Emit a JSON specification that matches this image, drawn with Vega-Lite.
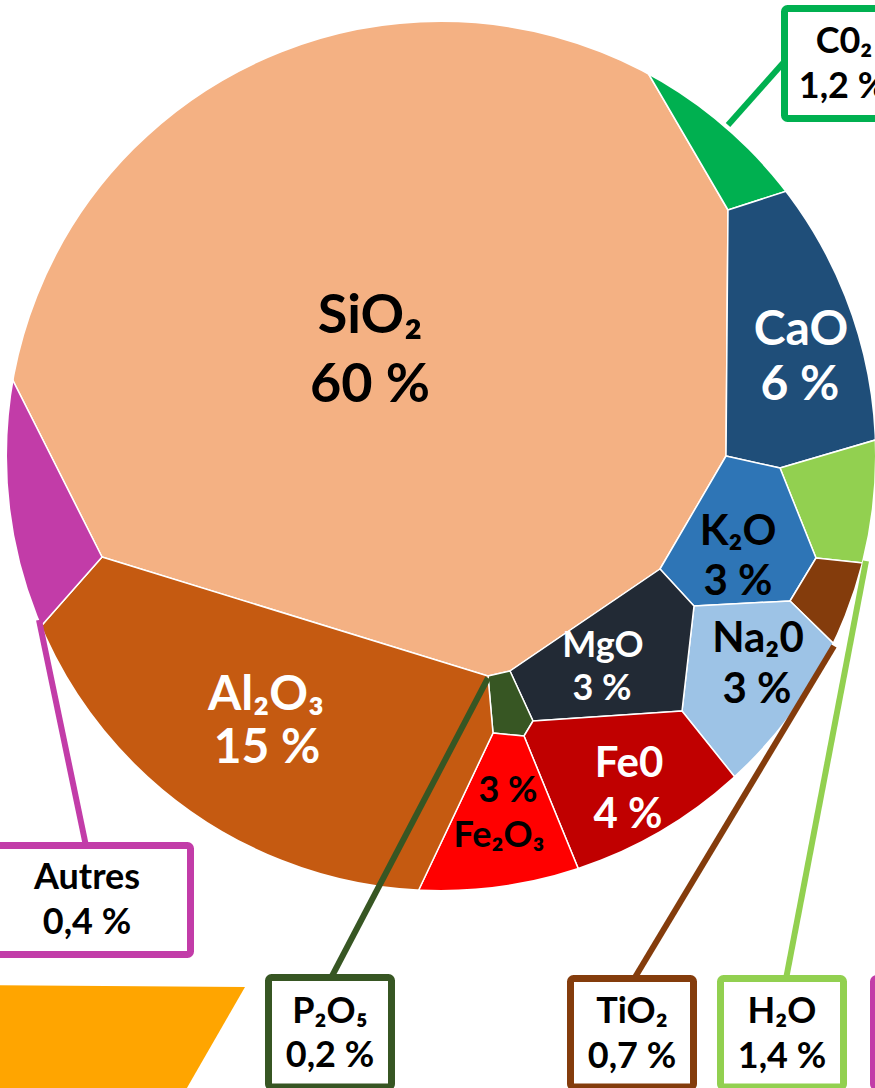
{
  "$schema": "https://vega.github.io/schema/vega-lite/v6.json",
  "width": 875,
  "height": 1088,
  "autosize": {"type": "none"},
  "padding": 0,
  "background": "white",
  "config": {"view": {"stroke": null}},
  "datasets": {
    "cellules": [
      {"cell": "SiO2", "i": 0, "x": 102, "y": 557}, {"cell": "SiO2", "i": 1, "x": -5, "y": 345}, {"cell": "SiO2", "i": 2, "x": -60, "y": 200}, {"cell": "SiO2", "i": 3, "x": 100, "y": -60}, {"cell": "SiO2", "i": 4, "x": 400, "y": -60}, {"cell": "SiO2", "i": 5, "x": 620, "y": 25}, {"cell": "SiO2", "i": 6, "x": 728, "y": 210}, {"cell": "SiO2", "i": 7, "x": 726, "y": 456}, {"cell": "SiO2", "i": 8, "x": 660, "y": 569}, {"cell": "SiO2", "i": 9, "x": 510, "y": 671}, {"cell": "SiO2", "i": 10, "x": 488, "y": 676}, {"cell": "SiO2", "i": 11, "x": 102, "y": 557},
      {"cell": "CO2", "i": 0, "x": 728, "y": 210}, {"cell": "CO2", "i": 1, "x": 620, "y": 25}, {"cell": "CO2", "i": 2, "x": 800, "y": 60}, {"cell": "CO2", "i": 3, "x": 849, "y": 171}, {"cell": "CO2", "i": 4, "x": 728, "y": 210},
      {"cell": "CaO", "i": 0, "x": 728, "y": 210}, {"cell": "CaO", "i": 1, "x": 849, "y": 171}, {"cell": "CaO", "i": 2, "x": 930, "y": 150}, {"cell": "CaO", "i": 3, "x": 930, "y": 424}, {"cell": "CaO", "i": 4, "x": 780, "y": 468}, {"cell": "CaO", "i": 5, "x": 726, "y": 456}, {"cell": "CaO", "i": 6, "x": 728, "y": 210},
      {"cell": "H2O", "i": 0, "x": 780, "y": 468}, {"cell": "H2O", "i": 1, "x": 930, "y": 424}, {"cell": "H2O", "i": 2, "x": 920, "y": 569}, {"cell": "H2O", "i": 3, "x": 816, "y": 558}, {"cell": "H2O", "i": 4, "x": 780, "y": 468},
      {"cell": "K2O", "i": 0, "x": 726, "y": 456}, {"cell": "K2O", "i": 1, "x": 780, "y": 468}, {"cell": "K2O", "i": 2, "x": 816, "y": 558}, {"cell": "K2O", "i": 3, "x": 790, "y": 601}, {"cell": "K2O", "i": 4, "x": 694, "y": 606}, {"cell": "K2O", "i": 5, "x": 660, "y": 569}, {"cell": "K2O", "i": 6, "x": 726, "y": 456},
      {"cell": "TiO2", "i": 0, "x": 816, "y": 558}, {"cell": "TiO2", "i": 1, "x": 920, "y": 569}, {"cell": "TiO2", "i": 2, "x": 880, "y": 689}, {"cell": "TiO2", "i": 3, "x": 790, "y": 601}, {"cell": "TiO2", "i": 4, "x": 816, "y": 558},
      {"cell": "Na2O", "i": 0, "x": 694, "y": 606}, {"cell": "Na2O", "i": 1, "x": 790, "y": 601}, {"cell": "Na2O", "i": 2, "x": 880, "y": 689}, {"cell": "Na2O", "i": 3, "x": 770, "y": 821}, {"cell": "Na2O", "i": 4, "x": 682, "y": 711}, {"cell": "Na2O", "i": 5, "x": 694, "y": 606},
      {"cell": "MgO", "i": 0, "x": 660, "y": 569}, {"cell": "MgO", "i": 1, "x": 694, "y": 606}, {"cell": "MgO", "i": 2, "x": 682, "y": 711}, {"cell": "MgO", "i": 3, "x": 533, "y": 721}, {"cell": "MgO", "i": 4, "x": 510, "y": 671}, {"cell": "MgO", "i": 5, "x": 660, "y": 569},
      {"cell": "P2O5", "i": 0, "x": 488, "y": 676}, {"cell": "P2O5", "i": 1, "x": 510, "y": 671}, {"cell": "P2O5", "i": 2, "x": 533, "y": 721}, {"cell": "P2O5", "i": 3, "x": 524, "y": 736}, {"cell": "P2O5", "i": 4, "x": 493, "y": 733}, {"cell": "P2O5", "i": 5, "x": 488, "y": 676},
      {"cell": "FeO", "i": 0, "x": 533, "y": 721}, {"cell": "FeO", "i": 1, "x": 682, "y": 711}, {"cell": "FeO", "i": 2, "x": 770, "y": 821}, {"cell": "FeO", "i": 3, "x": 596, "y": 912}, {"cell": "FeO", "i": 4, "x": 524, "y": 736}, {"cell": "FeO", "i": 5, "x": 533, "y": 721},
      {"cell": "Fe2O3", "i": 0, "x": 493, "y": 733}, {"cell": "Fe2O3", "i": 1, "x": 524, "y": 736}, {"cell": "Fe2O3", "i": 2, "x": 596, "y": 912}, {"cell": "Fe2O3", "i": 3, "x": 405, "y": 919}, {"cell": "Fe2O3", "i": 4, "x": 493, "y": 733},
      {"cell": "Al2O3", "i": 0, "x": 102, "y": 557}, {"cell": "Al2O3", "i": 1, "x": 488, "y": 676}, {"cell": "Al2O3", "i": 2, "x": 493, "y": 733}, {"cell": "Al2O3", "i": 3, "x": 405, "y": 919}, {"cell": "Al2O3", "i": 4, "x": 120, "y": 850}, {"cell": "Al2O3", "i": 5, "x": 13, "y": 658}, {"cell": "Al2O3", "i": 6, "x": 102, "y": 557},
      {"cell": "Autres", "i": 0, "x": 102, "y": 557}, {"cell": "Autres", "i": 1, "x": 13, "y": 658}, {"cell": "Autres", "i": 2, "x": -40, "y": 500}, {"cell": "Autres", "i": 3, "x": -5, "y": 345}, {"cell": "Autres", "i": 4, "x": 102, "y": 557}
    ],
    "centre": [{"x": 441, "y": 456}],
    "forme": [
      {"cell": "Orange", "i": 0, "x": -20, "y": 985}, {"cell": "Orange", "i": 1, "x": 245, "y": 987}, {"cell": "Orange", "i": 2, "x": 180, "y": 1100}, {"cell": "Orange", "i": 3, "x": -20, "y": 1100}, {"cell": "Orange", "i": 4, "x": -20, "y": 985}
    ],
    "traits": [
      {"cell": "CO2", "x": 728, "y": 125, "x2": 784, "y2": 62},
      {"cell": "Autres", "x": 39, "y": 620, "x2": 86, "y2": 846},
      {"cell": "P2O5", "x": 488, "y": 678, "x2": 331, "y2": 978},
      {"cell": "TiO2", "x": 834, "y": 646, "x2": 634, "y2": 979},
      {"cell": "H2O", "x": 866, "y": 561, "x2": 786, "y2": 979}
    ],
    "cadres": [
      {"cell": "CO2", "x": 784.5, "x2": 907.5, "y": 8.5, "y2": 118.5},
      {"cell": "Autres", "x": -16.5, "x2": 190.5, "y": 845.5, "y2": 954.5},
      {"cell": "P2O5", "x": 268.5, "x2": 391.5, "y": 977.5, "y2": 1087},
      {"cell": "TiO2", "x": 570.5, "x2": 693.5, "y": 978.5, "y2": 1087},
      {"cell": "H2O", "x": 720.5, "x2": 843.5, "y": 978.5, "y2": 1087},
      {"cell": "Autres", "x": 873.5, "x2": 1000, "y": 978.5, "y2": 1087}
    ],
    "etiquettes": [
      {"label": "SiO₂", "x": 370, "y": 333, "tone": "fonce", "taille": "xl"},
      {"label": "60 %", "x": 370, "y": 402, "tone": "fonce", "taille": "xl"},
      {"label": "CaO", "x": 801, "y": 345, "tone": "clair", "taille": "l"},
      {"label": "6 %", "x": 800, "y": 400, "tone": "clair", "taille": "l"},
      {"label": "Al₂O₃", "x": 266, "y": 710, "tone": "clair", "taille": "l"},
      {"label": "15 %", "x": 267, "y": 763, "tone": "clair", "taille": "l"},
      {"label": "K₂O", "x": 738, "y": 545, "tone": "fonce", "taille": "m"},
      {"label": "3 %", "x": 738, "y": 595, "tone": "fonce", "taille": "m"},
      {"label": "Na₂0", "x": 758, "y": 652, "tone": "fonce", "taille": "m"},
      {"label": "3 %", "x": 757, "y": 703, "tone": "fonce", "taille": "m"},
      {"label": "MgO", "x": 603, "y": 657, "tone": "clair", "taille": "s"},
      {"label": "3 %", "x": 602, "y": 700, "tone": "clair", "taille": "s"},
      {"label": "Fe0", "x": 629, "y": 777, "tone": "clair", "taille": "m"},
      {"label": "4 %", "x": 628, "y": 828, "tone": "clair", "taille": "m"},
      {"label": "3 %", "x": 508, "y": 802, "tone": "fonce", "taille": "s"},
      {"label": "Fe₂O₃", "x": 499, "y": 847, "tone": "fonce", "taille": "s"},
      {"label": "C0₂", "x": 844, "y": 53, "tone": "fonce", "taille": "s"},
      {"label": "1,2 %", "x": 843, "y": 98, "tone": "fonce", "taille": "s"},
      {"label": "Autres", "x": 87, "y": 889, "tone": "fonce", "taille": "s"},
      {"label": "0,4 %", "x": 87, "y": 934, "tone": "fonce", "taille": "s"},
      {"label": "P₂O₅", "x": 330, "y": 1023, "tone": "fonce", "taille": "s"},
      {"label": "0,2 %", "x": 330, "y": 1067, "tone": "fonce", "taille": "s"},
      {"label": "TiO₂", "x": 632, "y": 1023, "tone": "fonce", "taille": "s"},
      {"label": "0,7 %", "x": 632, "y": 1068, "tone": "fonce", "taille": "s"},
      {"label": "H₂O", "x": 782, "y": 1023, "tone": "fonce", "taille": "s"},
      {"label": "1,4 %", "x": 782, "y": 1068, "tone": "fonce", "taille": "s"}
    ]
  },
  "encoding": {
    "x": {"field": "x", "type": "quantitative", "scale": {"domain": [0, 875], "nice": false, "zero": false}, "axis": null},
    "y": {"field": "y", "type": "quantitative", "scale": {"domain": [0, 1088], "nice": false, "zero": false, "reverse": true}, "axis": null}
  },
  "layer": [
    {
      "data": {"name": "cellules"},
      "mark": {"type": "line", "filled": true, "stroke": "white", "strokeWidth": 1.5, "strokeJoin": "miter", "interpolate": "linear"},
      "encoding": {
        "order": {"field": "i", "type": "quantitative"},
        "color": {"field": "cell", "type": "nominal", "legend": null,
          "scale": {"domain": ["SiO2", "CO2", "CaO", "H2O", "K2O", "TiO2", "Na2O", "MgO", "P2O5", "FeO", "Fe2O3", "Al2O3", "Autres", "Orange"],
                    "range": ["#F4B183", "#00B050", "#1F4E79", "#92D050", "#2E75B6", "#843C0C", "#9DC3E6", "#222A35", "#375623", "#C00000", "#FF0000", "#C55A11", "#C23CA8", "#FFA500"]}}
      }
    },
    {
      "data": {"name": "centre"},
      "mark": {"type": "point", "shape": "circle", "filled": false, "fill": null, "stroke": "white", "strokeWidth": 386, "size": 1572516, "opacity": 1, "strokeOpacity": 1}
    },
    {
      "data": {"name": "forme"},
      "mark": {"type": "line", "filled": true, "strokeWidth": 0},
      "encoding": {
        "order": {"field": "i", "type": "quantitative"},
        "color": {"field": "cell", "type": "nominal", "legend": null,
          "scale": {"domain": ["SiO2", "CO2", "CaO", "H2O", "K2O", "TiO2", "Na2O", "MgO", "P2O5", "FeO", "Fe2O3", "Al2O3", "Autres", "Orange"],
                    "range": ["#F4B183", "#00B050", "#1F4E79", "#92D050", "#2E75B6", "#843C0C", "#9DC3E6", "#222A35", "#375623", "#C00000", "#FF0000", "#C55A11", "#C23CA8", "#FFA500"]}}
      }
    },
    {
      "data": {"name": "traits"},
      "mark": {"type": "rule", "strokeWidth": 6, "strokeCap": "butt"},
      "encoding": {
        "x2": {"field": "x2"},
        "y2": {"field": "y2"},
        "color": {"field": "cell", "type": "nominal", "legend": null,
          "scale": {"domain": ["SiO2", "CO2", "CaO", "H2O", "K2O", "TiO2", "Na2O", "MgO", "P2O5", "FeO", "Fe2O3", "Al2O3", "Autres", "Orange"],
                    "range": ["#F4B183", "#00B050", "#1F4E79", "#92D050", "#2E75B6", "#843C0C", "#9DC3E6", "#222A35", "#375623", "#C00000", "#FF0000", "#C55A11", "#C23CA8", "#FFA500"]}}
      }
    },
    {
      "data": {"name": "cadres"},
      "mark": {"type": "rect", "fill": "white", "strokeWidth": 7, "cornerRadius": 3},
      "encoding": {
        "x2": {"field": "x2"},
        "y2": {"field": "y2"},
        "stroke": {"field": "cell", "type": "nominal", "legend": null,
          "scale": {"domain": ["CO2", "Autres", "P2O5", "TiO2", "H2O"],
                    "range": ["#00B050", "#C23CA8", "#375623", "#843C0C", "#92D050"]}}
      }
    },
    {
      "data": {"name": "etiquettes"},
      "mark": {"type": "text", "font": "Lato, DejaVu Sans", "fontWeight": "bold", "align": "center", "baseline": "alphabetic"},
      "encoding": {
        "text": {"field": "label", "type": "nominal"},
        "color": {"condition": {"test": "datum.tone === 'clair'", "value": "#ffffff"}, "value": "#000000"},
        "size": {"field": "taille", "type": "ordinal", "legend": null,
          "scale": {"domain": ["xl", "l", "m", "s"], "range": [54, 36, 34, 32]}}
      }
    }
  ]
}
